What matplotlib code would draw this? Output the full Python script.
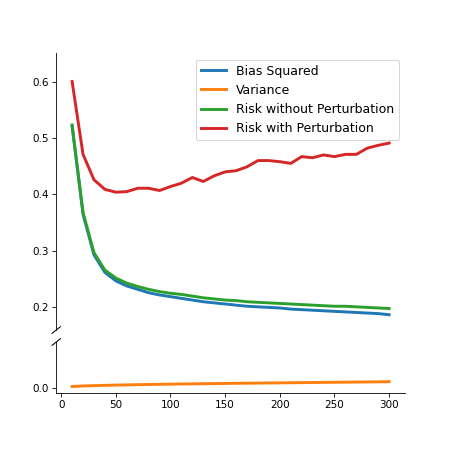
import numpy as np
import matplotlib
matplotlib.use('Agg')
import matplotlib.pyplot as plt
from matplotlib.ticker import FormatStrFormatter

# sample sizes
n_samples = [10, 20, 30, 40, 50, 60, 70, 80, 90, 100,
             110, 120, 130, 140, 150, 160, 170, 180, 190, 200,
             210, 220, 230, 240, 250, 260, 270, 280, 290, 300]

bias_sq = [0.521, 0.365, 0.293, 0.262, 0.247, 0.238, 0.232, 0.226, 0.222, 0.219,
           0.216, 0.213, 0.210, 0.208, 0.206, 0.204, 0.202, 0.201, 0.200, 0.199,
           0.197, 0.196, 0.195, 0.194, 0.193, 0.192, 0.191, 0.190, 0.189, 0.187]

variance = [0.0020, 0.0030, 0.0036, 0.0041, 0.0045, 0.0049, 0.0053, 0.0056, 0.0059, 0.0062,
            0.0065, 0.0067, 0.0070, 0.0072, 0.0074, 0.0077, 0.0079, 0.0081, 0.0083, 0.0085,
            0.0087, 0.0089, 0.0091, 0.0093, 0.0095, 0.0097, 0.0099, 0.0101, 0.0103, 0.0106]

risk_plain = [0.523, 0.368, 0.297, 0.266, 0.252, 0.243, 0.237, 0.232, 0.228, 0.225,
              0.223, 0.220, 0.217, 0.215, 0.213, 0.212, 0.210, 0.209, 0.208, 0.207,
              0.206, 0.205, 0.204, 0.203, 0.202, 0.202, 0.201, 0.200, 0.199, 0.198]

risk_perturbed = [0.600, 0.471, 0.426, 0.409, 0.404, 0.405, 0.411, 0.411, 0.407, 0.414,
                  0.420, 0.430, 0.423, 0.433, 0.440, 0.442, 0.449, 0.460, 0.460, 0.458,
                  0.455, 0.467, 0.465, 0.470, 0.467, 0.471, 0.471, 0.482, 0.487, 0.491]

labels = ['Bias Squared', 'Variance', 'Risk without Perturbation', 'Risk with Perturbation']
colors = ['tab:blue', 'tab:orange', 'tab:green', 'tab:red']
series = [bias_sq, variance, risk_plain, risk_perturbed]

fig = plt.figure(figsize=(6, 6), dpi=75)
ax_top = fig.add_axes([0.125, 0.2667, 0.775, 0.6149])
ax_bot = fig.add_axes([0.125, 0.1273, 0.775, 0.1127], sharex=ax_top)

for ax in (ax_top, ax_bot):
    for y, c, lab in zip(series, colors, labels):
        ax.plot(n_samples, y, color=c, lw=2.8, label=lab)
    ax.spines['top'].set_visible(False)
    ax.spines['right'].set_visible(False)

ax_top.set_ylim(0.16, 0.65)
ax_bot.set_ylim(-0.009, 0.081)
ax_top.set_yticks([0.2, 0.3, 0.4, 0.5, 0.6])
ax_bot.set_yticks([0.0])
ax_bot.yaxis.set_major_formatter(FormatStrFormatter('%.1f'))
ax_top.spines['bottom'].set_visible(False)
ax_top.tick_params(axis='x', bottom=False, labelbottom=False)
ax_bot.set_xticks([0, 50, 100, 150, 200, 250, 300])

# break marks on the left spine
d = 0.012
kw = dict(color='k', clip_on=False, lw=1)
ax_top.plot((-d, d), (-d * 0.8 / 0.6149 * 0.775, d * 0.8 / 0.6149 * 0.775), transform=ax_top.transAxes, **kw)
ax_bot.plot((-d, d), (1 - d * 0.8 / 0.1127 * 0.775, 1 + d * 0.8 / 0.1127 * 0.775), transform=ax_bot.transAxes, **kw)

ax_top.legend(loc='upper right', fontsize=12)

fig.savefig('out.png', dpi=75)
